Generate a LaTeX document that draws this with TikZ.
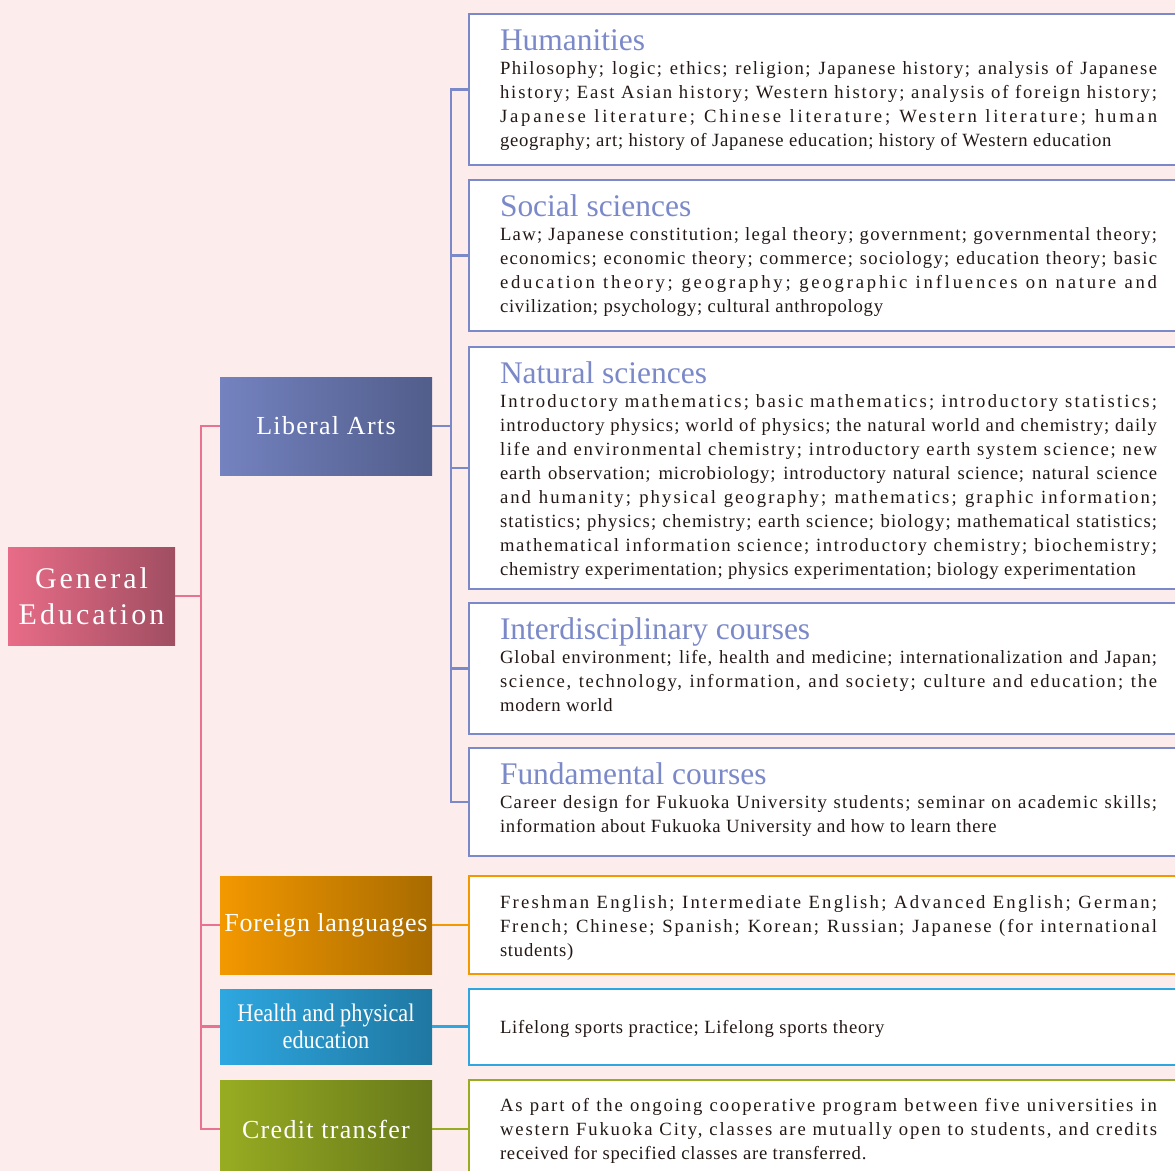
\documentclass[tikz,border=0pt]{standalone}
\usepackage{graphicx}
\usepackage{fontspec}
\setmainfont{Liberation Serif}
\definecolor{bgC}{HTML}{FDECEC}
\definecolor{pinkL}{HTML}{E8728F}
\definecolor{rootL}{HTML}{E86C87}
\definecolor{rootR}{HTML}{A04E62}
\definecolor{blueL}{HTML}{7B89C9}
\definecolor{libL}{HTML}{7482C0}
\definecolor{libR}{HTML}{515D8A}
\definecolor{oraL}{HTML}{F39800}
\definecolor{oraR}{HTML}{A86B00}
\definecolor{skyL}{HTML}{2EA7E0}
\definecolor{skyR}{HTML}{1F77A1}
\definecolor{grnL}{HTML}{98AC22}
\definecolor{grnR}{HTML}{66781A}
\definecolor{txtC}{HTML}{231815}
\newlength\tw \setlength\tw{492.75pt}
\newsavebox\lnbox
\newsavebox\tmpbox
\newcount\lsv
\newif\ifgrow
\newcommand\setls[1]{\edef\tmpls{\noexpand\addfontfeatures{LetterSpace=#1}}\tmpls}
\newcommand\jl[1]{\par\noindent
 \sbox\lnbox{#1}%
 \ifdim\wd\lnbox>\tw
   \resizebox{\tw}{\ht\lnbox}{\usebox\lnbox}%
 \else
   \lsv=4 \growtrue
   \loop
     \advance\lsv by 1
     \sbox\tmpbox{\setls{\the\lsv}#1}%
     \ifdim\wd\tmpbox>\tw \growfalse \advance\lsv by -1 \fi
     \ifnum\lsv>19 \growfalse\fi
   \ifgrow\repeat
   \makebox[\tw][s]{\setls{\the\lsv}#1}%
 \fi\par}
\newcommand\jlast[1]{\par\noindent\sbox\lnbox{#1}\ifdim\wd\lnbox>\tw\resizebox{\tw}{\ht\lnbox}{\usebox\lnbox}\else\usebox\lnbox\fi\par}
\newcommand\bodyfont{\fontsize{14}{18}\selectfont\addfontfeatures{LetterSpace=4}}
\newcommand\cattext[2]{\parbox[t]{\tw}{\lineskiplimit=-100pt\lineskip=0pt\parindent=0pt
{\fontsize{23.6}{18}\selectfont\leavevmode\color{blueL}#1\par}%
\bodyfont #2}}
\newcommand\plaintext[1]{\parbox[t]{\tw}{\lineskiplimit=-100pt\lineskip=0pt\parindent=0pt
\bodyfont #1}}
\begin{document}
\begin{tikzpicture}[x=0.75pt,y=-0.75pt,
  conn/.style={line width=2.2pt, line join=miter},
  rootnode/.style={rectangle, minimum width=125.25pt, minimum height=73.5pt, inner sep=0pt, outer sep=0pt, left color=rootL, right color=rootR, text=white, font=\fontsize{22.5}{27}\selectfont\addfontfeatures{LetterSpace=10}, align=center},
  catnode/.style={rectangle, minimum width=159pt, minimum height=73.5pt, inner sep=0pt, outer sep=0pt, text=white, font=\fontsize{19.5}{21}\selectfont\addfontfeatures{LetterSpace=5}, align=center},
  boxst/.style={rectangle, draw, fill=white, line width=2.2pt, minimum width=540.75pt, inner sep=0pt, outer sep=0pt},
  txt/.style={anchor=base west, inner sep=0pt, outer sep=0pt, text=txtC}
]
\fill[bgC] (0,0) rectangle (1175,1171);
\path[use as bounding box] (0,0) rectangle (1175,1171);
\clip (0,0) rectangle (1175,1171);

% main nodes
\node[rootnode] (root) at (91.5,596) {General\\Education};
\node[catnode, left color=libL, right color=libR] (lib) at (326,426) {Liberal Arts};
\node[catnode, left color=oraL, right color=oraR, font=\fontsize{19.5}{21}\selectfont\addfontfeatures{LetterSpace=3}] (fl) at (326,925) {Foreign languages};
\node[catnode, minimum height=56.25pt, left color=skyL, right color=skyR, font=\fontsize{19}{20}\selectfont] (hp) at (326,1026.5) {\scalebox{0.88}[1]{Health and physical}\\\scalebox{0.88}[1]{education}};
\node[catnode, left color=grnL, right color=grnR] (cr) at (326,1129) {Credit transfer};

% boxes
\node[boxst, draw=blueL, minimum height=113.25pt] (hum) at (829.5,89.5) {};
\node[boxst, draw=blueL, minimum height=113.25pt] (soc) at (829.5,255.5) {};
\node[boxst, draw=blueL, minimum height=181.5pt] (nat) at (829.5,468) {};
\node[boxst, draw=blueL, minimum height=98.25pt] (int) at (829.5,668.5) {};
\node[boxst, draw=blueL, minimum height=81pt] (fun) at (829.5,802) {};
\node[boxst, draw=oraL, minimum height=73.5pt] (flb) at (829.5,925) {};
\node[boxst, draw=skyL, minimum height=57pt] (hpb) at (829.5,1027) {};
\node[boxst, draw=grnL, minimum height=73.5pt] (crb) at (829.5,1129) {};

% connectors
\coordinate (pj) at (201,596);
\draw[conn, pinkL] (root.east) -- (pj);
\draw[conn, pinkL] (lib.west) -| (pj) |- (cr.west);
\draw[conn, pinkL] (pj |- fl.west) -- (fl.west);
\draw[conn, pinkL] (pj |- hp.west) -- (hp.west);

\coordinate (bj) at (451,426);
\draw[conn, blueL] (lib.east) -- (bj);
\draw[conn, blueL] (hum.west) -| (bj) |- (fun.west);
\draw[conn, blueL] (bj |- soc.west) -- (soc.west);
\draw[conn, blueL] (bj |- nat.west) -- (nat.west);
\draw[conn, blueL] (bj |- int.west) -- (int.west);

\draw[conn, oraL] (fl.east) -- (flb.west);
\draw[conn, skyL] (hp.east) -- (hp.east -| hpb.west);
\draw[conn, grnL] (cr.east) -- (crb.west);

% texts
\node[txt] (humt) at (500,50) {\cattext{Humanities}{%
\jl{Philosophy; logic; ethics; religion; Japanese history; analysis of Japanese}
\jl{history; East Asian history; Western history; analysis of foreign history;}
\jl{Japanese literature; Chinese literature; Western literature; human}
\jlast{geography; art; history of Japanese education; history of Western education}}};

\node[txt] (soct) at (500,216) {\cattext{Social sciences}{%
\jl{Law; Japanese constitution; legal theory; government; governmental theory;}
\jl{economics; economic theory; commerce; sociology; education theory; basic}
\jl{education theory; geography; geographic influences on nature and}
\jlast{civilization; psychology; cultural anthropology}}};

\node[txt] (natt) at (500,383) {\cattext{Natural sciences}{%
\jl{Introductory mathematics; basic mathematics; introductory statistics;}
\jl{introductory physics; world of physics; the natural world and chemistry; daily}
\jl{life and environmental chemistry; introductory earth system science; new}
\jl{earth observation; microbiology; introductory natural science; natural science}
\jl{and humanity; physical geography; mathematics; graphic information;}
\jl{statistics; physics; chemistry; earth science; biology; mathematical statistics;}
\jl{mathematical information science; introductory chemistry; biochemistry;}
\jlast{chemistry experimentation; physics experimentation; biology experimentation}}};

\node[txt] (intt) at (500,639) {\cattext{Interdisciplinary courses}{%
\jl{Global environment; life, health and medicine; internationalization and Japan;}
\jl{science, technology, information, and society; culture and education; the}
\jlast{modern world}}};

\node[txt] (funt) at (500,784) {\cattext{Fundamental courses}{%
\jl{Career design for Fukuoka University students; seminar on academic skills;}
\jlast{information about Fukuoka University and how to learn there}}};

\node[txt] (flt) at (500,908) {\plaintext{%
\jl{Freshman English; Intermediate English; Advanced English; German;}
\jl{French; Chinese; Spanish; Korean; Russian; Japanese (for international}
\jlast{students)}}};

\node[txt] (hpt) at (500,1033) {\plaintext{%
\jlast{Lifelong sports practice; Lifelong sports theory}}};

\node[txt] (crt) at (500,1111) {\plaintext{%
\jl{As part of the ongoing cooperative program between five universities in}
\jl{western Fukuoka City, classes are mutually open to students, and credits}
\jlast{received for specified classes are transferred.}}};
\end{tikzpicture}
\end{document}
